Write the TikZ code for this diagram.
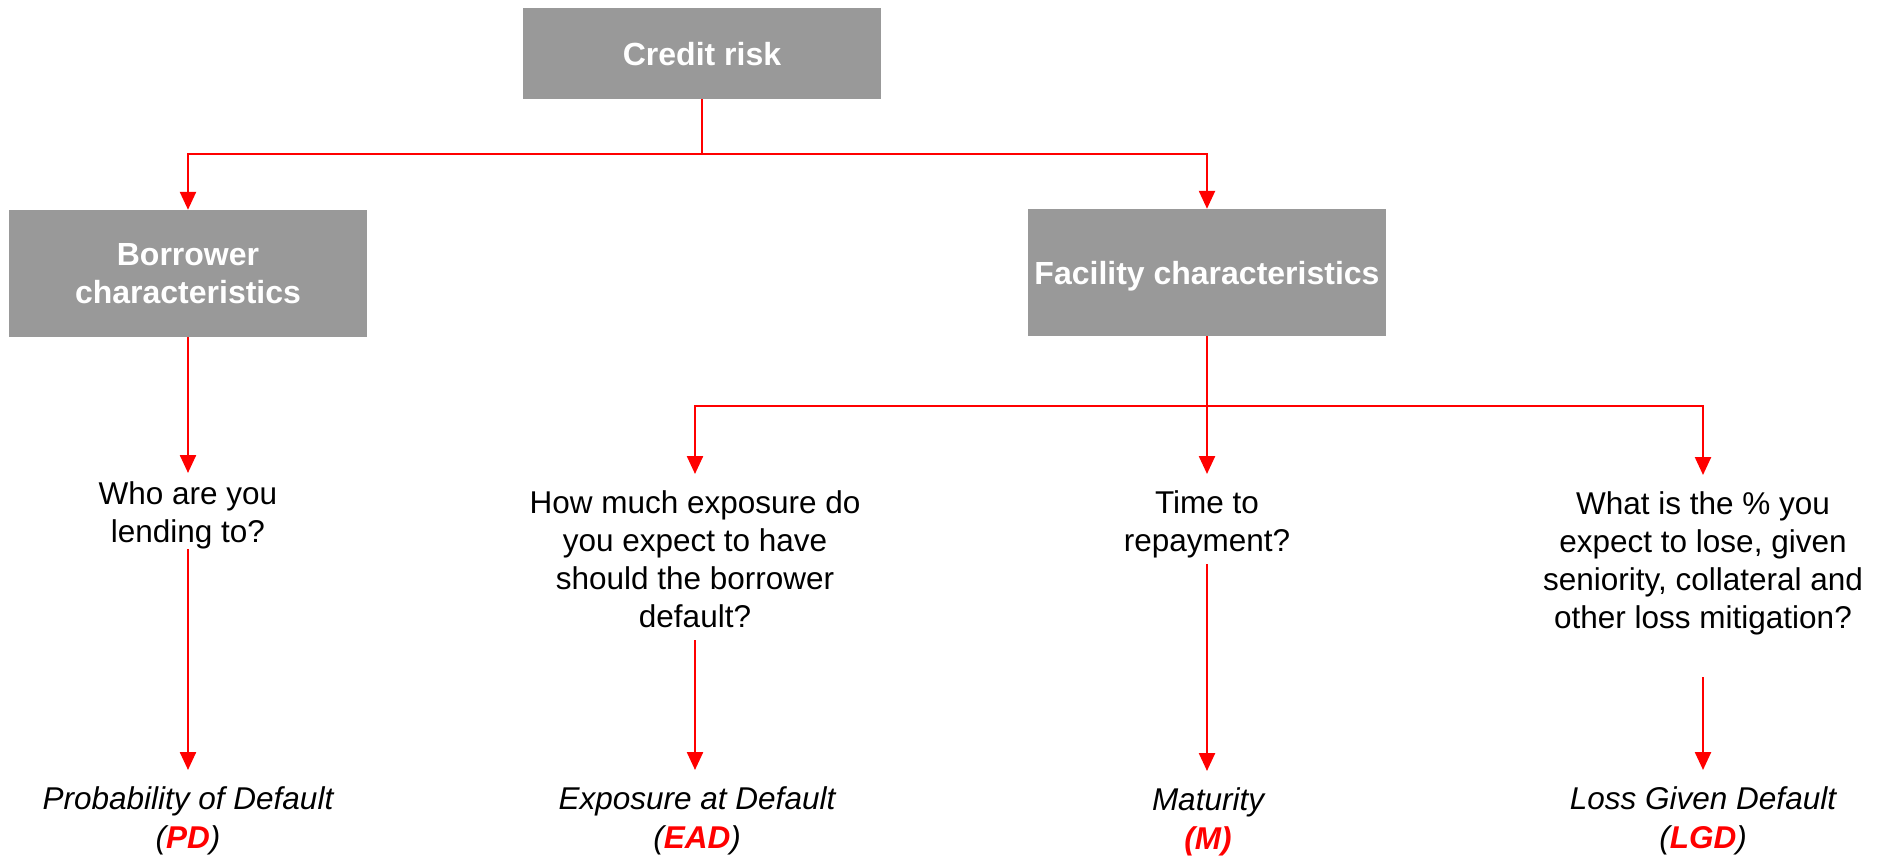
\documentclass[tikz,border=0pt]{standalone}
\usepackage{fontspec}
\setmainfont{Liberation Sans}
\usetikzlibrary{arrows.meta}
\definecolor{boxgray}{HTML}{999999}
\definecolor{linered}{HTML}{FF0000}
\begin{document}
\begin{tikzpicture}[x=1pt,y=-1pt,
  box/.style={rectangle, fill=boxgray, minimum width=358pt, text=white, inner sep=0pt,
    font=\fontsize{32}{38}\selectfont\bfseries, align=center},
  qtext/.style={inner sep=0pt, anchor=base, align=center, font=\fontsize{31.5}{37.7}\selectfont},
  result/.style={inner sep=0pt, anchor=base, align=center, font=\fontsize{31.5}{39}\selectfont\itshape},
  conn/.style={draw=linered, line width=2.4pt},
  arr/.style={conn, -{Triangle[width=16pt,length=18pt]}, color=linered}
]
\useasboundingbox (0,0) rectangle (1887,856);

% boxes
\node[box, minimum height=91pt, text depth=0pt] (credit) at (702,53.5) {Credit risk};
\node[box, minimum height=127pt] (borrower) at (188,273.5) {Borrower\\characteristics};
\node[box, minimum height=127pt, text depth=0pt] (facility) at (1207,272.5) {Facility characteristics};

% questions (anchor = baseline of last line)
\node[qtext] (q1) at (188,542) {Who are you\\lending to?};
\node[qtext] (q2) at (695,627) {How much exposure do\\you expect to have\\should the borrower\\default?};
\node[qtext] (q3) at (1207,551) {Time to\\repayment?};
\node[qtext] (q4) at (1703,628) {What is the \% you\\expect to lose, given\\seniority, collateral and\\other loss mitigation?};

% results
\node[result] (pd) at (188,848) {Probability of Default\\(\textcolor{linered}{\bfseries PD})};
\node[result] (ead) at (697,848) {Exposure at Default\\(\textcolor{linered}{\bfseries EAD})};
\node[result] (mat) at (1208,849) {Maturity\\\textcolor{linered}{\bfseries (M)}};
\node[result] (lgd) at (1703,848) {Loss Given Default\\(\textcolor{linered}{\bfseries LGD})};

% coordinates for connector ends
\coordinate (topbus) at (702,154);
\coordinate (fbus) at (1207,406);
\coordinate (q1top) at (188,473);
\coordinate (q2top) at (695,474);
\coordinate (q3top) at (1207,474);
\coordinate (q4top) at (1703,475);
\coordinate (q1bot) at (188,549);
\coordinate (q2bot) at (695,640);
\coordinate (q3bot) at (1207,564);
\coordinate (q4bot) at (1703,677);
\coordinate (pdtop) at (188,770);
\coordinate (eadtop) at (695,770);
\coordinate (mattop) at (1207,771);
\coordinate (lgdtop) at (1703,770);

% connectors
\draw[conn] (credit.south) -- (topbus);
\draw[arr] (topbus) -| (borrower.north);
\draw[arr] (topbus) -| (facility.north);
\draw[arr] (borrower.south) -- (q1top);
\draw[conn] (facility.south) -- (fbus);
\draw[arr] (fbus) -| (q2top);
\draw[arr] (fbus) -- (q3top);
\draw[arr] (fbus) -| (q4top);
\draw[arr] (q1bot) -- (pdtop);
\draw[arr] (q2bot) -- (eadtop);
\draw[arr] (q3bot) -- (mattop);
\draw[arr] (q4bot) -- (lgdtop);
\end{tikzpicture}
\end{document}
